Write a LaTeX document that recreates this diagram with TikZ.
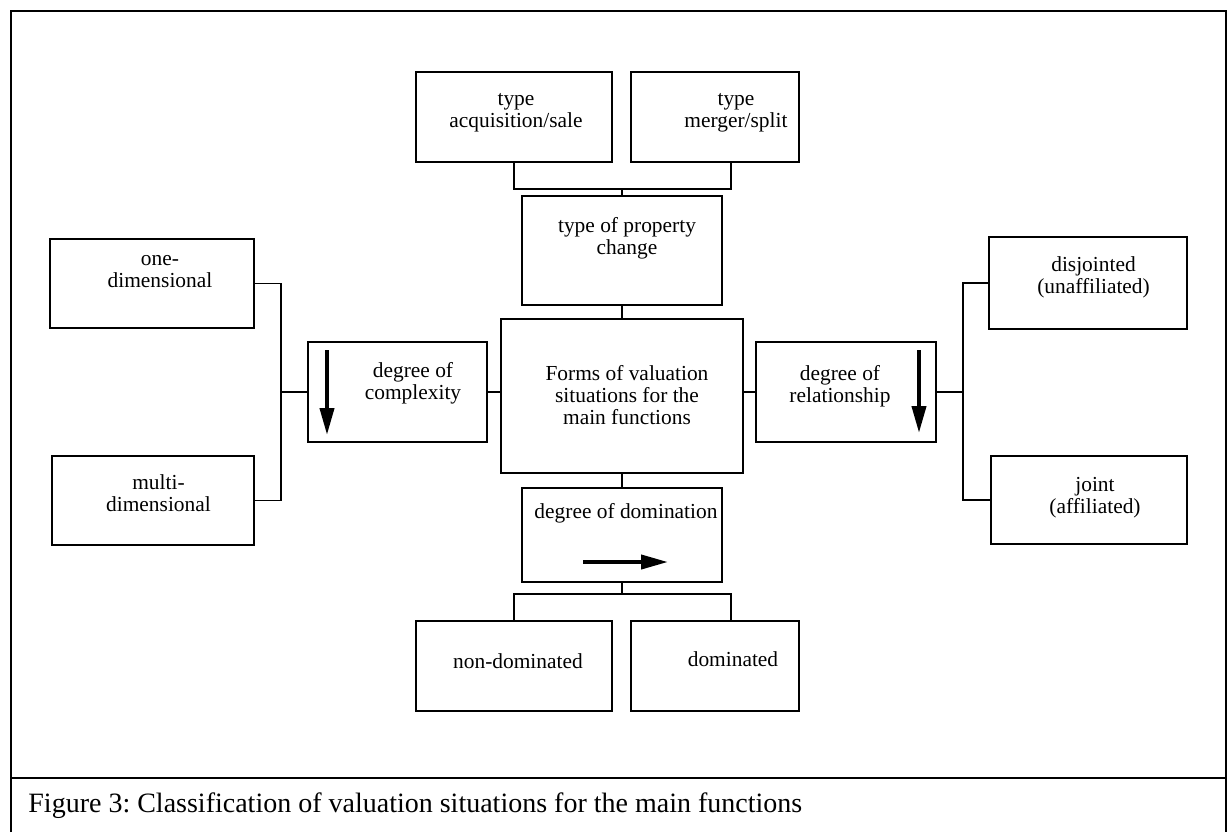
\documentclass[tikz,border=0pt]{standalone}
\usepackage{fontspec}
\setmainfont{Liberation Serif}
\usepackage{tikz}
\usetikzlibrary{positioning,arrows.meta}
\frenchspacing

\begin{document}
\begin{tikzpicture}[x=0.5pt,y=-0.5pt,
box/.style 2 args={draw,rectangle,line width=.8pt,inner sep=0pt,minimum width=#1,minimum height=#2},
conn/.style={line width=.8pt},
bigarrow/.style={line width=2pt,-{Triangle[length=13.5pt,width=7pt]}},
every label/.append style={align=center,inner sep=0pt,font=\fontsize{10.7}{11}\selectfont}]
\useasboundingbox (0,0) rectangle (1227,832);

% frame and caption
\draw[conn] (11,832) |- (1226,11) -- (1226,832);
\draw[conn] (11,778) -- (1226,778);
\node (cap) [anchor=base west,inner sep=0pt,font=\fontsize{14}{16}\selectfont] at (28,812)
    {Figure 3: Classification of valuation situations for the main functions};

% top
\node (acq) [box={98pt}{45pt},
    label={[xshift=1pt,yshift=2pt]center:type\\acquisition/sale}] at (514,117) {};
\node (merg) [box={84pt}{45pt},
    label={[xshift=10.5pt,yshift=2pt]center:type\\merger/split}] at (715,117) {};
\node (prop) [box={100pt}{54.5pt},
    label={[xshift=2.5pt,yshift=6.25pt]center:type of property\\change}] at (622,250.5) {};

% middle
\node (forms) [box={121pt}{77pt},
    label={[xshift=2.5pt,yshift=.5pt]center:Forms of valuation\\situations for the\\main functions}] at (622,396) {};
\node (cplx) [box={89.5pt}{50pt},
    label={[xshift=7.75pt,yshift=4.5pt]center:degree of\\complexity}] at (397.5,392) {};
\node (rel) [box={90pt}{50pt},
    label={[xshift=-3pt,yshift=3pt]center:degree of\\relationship}] at (846,392) {};

% left
\node (onedim) [box={102pt}{44.5pt},
    label={[xshift=4pt,yshift=5.75pt]center:one-\\dimensional}] at (152,283.5) {};
\node (multdim) [box={101pt}{44.5pt},
    label={[xshift=2.75pt,yshift=3.75pt]center:multi-\\dimensional}] at (153,500.5) {};

% right
\node (disj) [box={99pt}{46pt},
    label={[xshift=2.75pt,yshift=3pt]center:disjointed\\(unaffiliated)}] at (1088,283) {};
\node (joint) [box={98pt}{44pt},
    label={[xshift=3pt,yshift=1pt]center:joint\\(affiliated)}] at (1089,500) {};

% bottom
\node (dom) [box={100pt}{47pt},
    label={[xshift=2pt,yshift=11pt]center:degree of domination}] at (622,535) {};
\node (ndom) [box={98pt}{45pt},
    label={[xshift=2pt,yshift=2.5pt]center:non-dominated}] at (514,666) {};
\node (domd) [box={84pt}{45pt},
    label={[xshift=9pt,yshift=3.5pt]center:dominated}] at (715,666) {};

% connectors
\coordinate (topj) at (622,189);
\coordinate (lj) at (281,392);
\coordinate (rj) at (963,392);
\coordinate (botj) at (622,594);
\draw[conn] (acq.south) |- (topj) -| ([xshift=8pt]merg.south);
\draw[conn] (topj) -- (prop.north);
\draw[conn] (prop.south) -- (forms.north);
\draw[conn] (cplx.east) -- (cplx.east -| forms.west);
\draw[conn] (rel.west) -- (rel.west -| forms.east);
\draw[conn] (forms.south) -- (dom.north);
\draw[conn] (cplx.west) -- (lj);
\draw[conn] (onedim.east) -| (lj) |- (multdim.east);
\draw[conn] (rel.east) -- (rj);
\draw[conn] (disj.west) -| (rj) |- (joint.west);
\draw[conn] (dom.south) -- (botj);
\draw[conn] (ndom.north) |- (botj) -| ([xshift=8pt]domd.north);

% direction arrows
\draw[bigarrow] (327,350) -- (327,435);
\draw[bigarrow] (919,350) -- (919,433);
\draw[bigarrow] (583,562) -- (668,562);
\end{tikzpicture}
\end{document}
